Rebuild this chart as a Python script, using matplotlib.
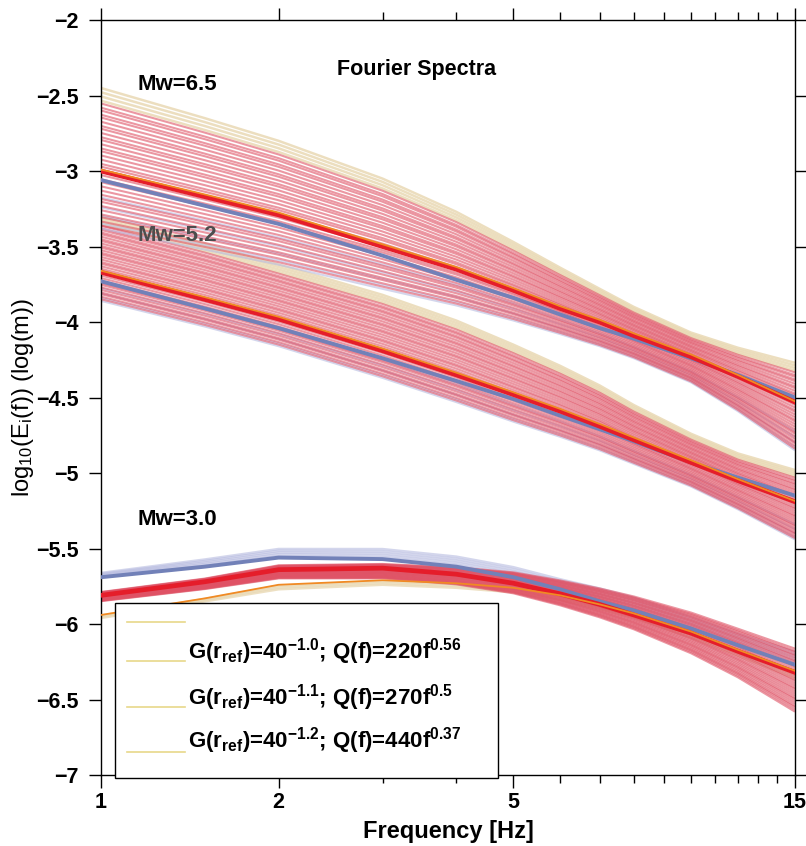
import numpy as np
import matplotlib.pyplot as plt
from matplotlib.patches import Rectangle

plt.rcParams['font.family'] = ['Liberation Sans', 'DejaVu Sans']
plt.rcParams['mathtext.fontset'] = 'custom'
plt.rcParams['mathtext.rm'] = 'Liberation Sans'
plt.rcParams['mathtext.bf'] = 'Liberation Sans:bold'
plt.rcParams['mathtext.it'] = 'Liberation Sans:italic'

freq = [1, 1.5, 2, 3, 4, 5, 6, 7, 8, 10, 12, 15]

# Mw=6.5
red_65 = [-3.00, -3.17, -3.29, -3.50, -3.65, -3.79, -3.91, -4.00, -4.09, -4.23, -4.36, -4.53]
blue_65 = [-3.06, -3.23, -3.35, -3.56, -3.72, -3.84, -3.95, -4.04, -4.11, -4.24, -4.35, -4.50]
orange_65 = [-2.99, -3.155, -3.275, -3.485, -3.635, -3.775, -3.895, -3.985, -4.075, -4.215, -4.35, -4.525]
top_65 = [-2.45, -2.65, -2.80, -3.05, -3.27, -3.47, -3.64, -3.78, -3.90, -4.07, -4.17, -4.27]
bot_65 = [-3.38, -3.52, -3.62, -3.78, -3.89, -3.99, -4.08, -4.16, -4.24, -4.40, -4.59, -4.85]

# Mw=5.2
red_52 = [-3.67, -3.85, -3.98, -4.19, -4.35, -4.48, -4.59, -4.69, -4.78, -4.93, -5.05, -5.19]
blue_52 = [-3.73, -3.91, -4.04, -4.24, -4.39, -4.51, -4.62, -4.71, -4.79, -4.93, -5.03, -5.15]
orange_52 = [-3.66, -3.835, -3.965, -4.175, -4.335, -4.465, -4.575, -4.675, -4.765, -4.915, -5.04, -5.185]
top_52 = [-3.30, -3.48, -3.62, -3.82, -3.99, -4.15, -4.29, -4.42, -4.55, -4.74, -4.87, -4.98]
bot_52 = [-3.86, -4.03, -4.16, -4.37, -4.53, -4.66, -4.76, -4.85, -4.94, -5.09, -5.24, -5.44]

# Mw=3.0
red_30 = [-5.81, -5.72, -5.64, -5.63, -5.67, -5.73, -5.80, -5.87, -5.94, -6.06, -6.18, -6.32]
blue_30 = [-5.69, -5.62, -5.56, -5.57, -5.62, -5.69, -5.77, -5.85, -5.91, -6.03, -6.14, -6.27]
orange_30 = [-5.94, -5.83, -5.74, -5.71, -5.73, -5.76, -5.81, -5.87, -5.93, -6.05, -6.17, -6.31]
top_30 = [-5.78, -5.69, -5.60, -5.59, -5.61, -5.64, -5.69, -5.74, -5.79, -5.89, -5.99, -6.11]
bot_30 = [-5.85, -5.77, -5.70, -5.70, -5.74, -5.80, -5.88, -5.96, -6.04, -6.20, -6.36, -6.59]
lav_top_30 = [-5.66, -5.57, -5.50, -5.50, -5.55, -5.62, -5.70, -5.76, -5.82, -5.95, -6.06, -6.18]
tan_bot_30 = [-5.96, -5.85, -5.77, -5.74, -5.76, -5.79, -5.84, -5.90, -5.96, -6.09, -6.21, -6.36]

# position of each ensemble curve inside its band (0 = bottom, 1 = top)
fr_red = [0.02, 0.05, 0.08, 0.10, 0.13, 0.16, 0.19, 0.21, 0.24, 0.27, 0.30, 0.33,
          0.35, 0.38, 0.41, 0.44, 0.46, 0.49, 0.52, 0.55, 0.57, 0.60, 0.63, 0.65,
          0.68, 0.71, 0.73, 0.76, 0.79, 0.81, 0.84, 0.86, 0.89]
fr_tan = [0.91, 0.94, 0.97, 1.0]
fr_lav = [0.0, 0.035, 0.09, 0.15, 0.22]
fr_lav30 = [0.15, 0.35, 0.55, 0.75, 0.95]
fr_tan30 = [0.0, 0.4, 0.8]

yticks = [-7, -6.5, -6, -5.5, -5, -4.5, -4, -3.5, -3, -2.5, -2]
xticks = [1, 2, 5, 15]
xminor = [3, 4, 6, 7, 8, 9, 10, 11, 12, 13, 14]

legend_labels = [r'G(r$_{\mathbf{ref}}$)=40$^{\mathbf{-1.0}}$; Q(f)=220f$^{\mathbf{0.56}}$',
                 r'G(r$_{\mathbf{ref}}$)=40$^{\mathbf{-1.1}}$; Q(f)=270f$^{\mathbf{0.5}}$',
                 r'G(r$_{\mathbf{ref}}$)=40$^{\mathbf{-1.2}}$; Q(f)=440f$^{\mathbf{0.37}}$']

RED = '#e51d2a'
BLUE = '#7281b8'
ORANGE = '#f08a24'
THIN_RED = '#df5265'
TAN = '#e9d9b4'
LAV = '#b7bbe0'


def band(ax, lo, hi, fracs, color, alpha, lw=1.5):
    lo = np.array(lo)
    hi = np.array(hi)
    for fr in fracs:
        ax.plot(freq, lo + fr * (hi - lo), color=color, lw=lw, alpha=alpha,
                solid_capstyle='butt', zorder=2)


fig = plt.figure(figsize=(8.06, 8.46), dpi=100)
ax = fig.add_axes([0.1253, 0.0839, 0.861, 0.8924])

for lo, hi in [(bot_52, top_52), (bot_65, top_65)]:
    band(ax, lo, hi, fr_lav, LAV, 0.6)
    band(ax, lo, hi, fr_tan, TAN, 0.85, lw=1.8)
    band(ax, lo, hi, fr_red, THIN_RED, 0.6)

band(ax, blue_30, lav_top_30, fr_lav30, LAV, 0.6, lw=1.8)
band(ax, tan_bot_30, orange_30, fr_tan30, TAN, 0.8, lw=1.8)
band(ax, bot_30, top_30, fr_red, THIN_RED, 0.6)

for b, r, o in [(blue_65, red_65, orange_65), (blue_52, red_52, orange_52),
                (blue_30, red_30, orange_30)]:
    ax.plot(freq, b, color=BLUE, lw=2.8, zorder=3)
    ax.plot(freq, r, color=RED, lw=3.4, zorder=4)
    ax.plot(freq, o, color=ORANGE, lw=1.3, zorder=5)

ax.set_xscale('log')
ax.set_xlim(1, 15)
ax.set_ylim(-7, -2)
ax.set_xticks(xticks)
ax.set_xticklabels([str(t) for t in xticks])
ax.set_xticks(xminor, minor=True)
ax.set_xticklabels([], minor=True)
ax.set_yticks(yticks)
ax.set_yticklabels([('%g' % t).replace('-', '\u2212') for t in yticks])
ax.tick_params(which='both', direction='out', top=True, right=True,
               labelsize=15.5, width=1.0)
ax.tick_params(which='major', length=9)
ax.tick_params(axis='y', pad=7)
ax.tick_params(which='minor', length=6)
for lab in ax.get_xticklabels() + ax.get_yticklabels():
    lab.set_fontweight('bold')
for s in ax.spines.values():
    s.set_linewidth(1.0)

ax.set_xlabel('Frequency [Hz]', fontsize=17, fontweight='bold', labelpad=5)
ax.set_ylabel(r'log$_{\mathrm{10}}$(E$_{\mathrm{i}}$(f)) (log(m))', fontsize=17, labelpad=0)

ax.text(3.43, -2.33, 'Fourier Spectra', fontsize=15.5, fontweight='bold',
        ha='center', va='center')
ax.text(1.155, -2.43, 'Mw=6.5', fontsize=16, fontweight='bold', va='center')
ax.text(1.155, -3.43, 'Mw=5.2', fontsize=16, fontweight='bold', va='center',
        color='#4d4d4d', zorder=6)
ax.text(1.155, -5.31, 'Mw=3.0', fontsize=16, fontweight='bold', va='center')

# legend box
ax.add_patch(Rectangle((0.020, -0.004), 0.552, 0.232, transform=ax.transAxes,
                       facecolor='white', edgecolor='black', lw=1.0, zorder=10,
                       clip_on=False))
for yy in [0.203, 0.151, 0.090, 0.030]:
    ax.plot([0.038, 0.121], [yy, yy], transform=ax.transAxes, color='#e8d88a',
            lw=1.2, zorder=11)
for yy, lab in zip([0.163, 0.103, 0.046], legend_labels):
    ax.text(0.126, yy, lab, transform=ax.transAxes, fontsize=16,
            fontweight='bold', va='center', zorder=11)

fig.savefig('out.png', dpi=100)
